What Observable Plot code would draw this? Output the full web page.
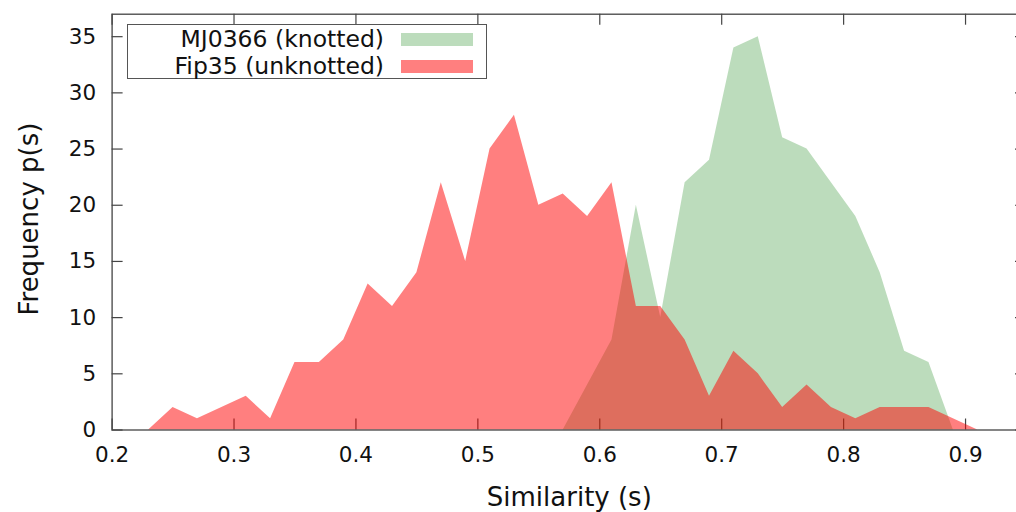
<!DOCTYPE html>
<html>
<head>
<meta charset="utf-8">
<script src="https://cdn.jsdelivr.net/npm/d3@7"></script>
<script src="https://cdn.jsdelivr.net/npm/@observablehq/plot@0.6"></script>
<style>
  html, body { margin: 0; padding: 0; background: #fff; overflow: hidden; }
  #chart { position: relative; width: 1016px; height: 512px; overflow: hidden; font-family: "DejaVu Sans", sans-serif; }
  #legend { position: absolute; left: 127px; top: 24px; width: 358px; height: 53px; border: 1.3px solid #555; background: #fff; }
  .row { position: absolute; left: 0; height: 28px; display: flex; align-items: center; }
  .row span { width: 256px; text-align: right; font-size: 23.5px; color: #111; white-space: nowrap; }
  .row i { display: block; width: 72px; height: 13px; margin-left: 17px; }
</style>
</head>
<body>
<div id="chart"><div id="legend"></div></div>
<script>
// Similarity bin centres and frequencies for each protein
const fipS    = [0.23, 0.25, 0.27, 0.29, 0.31, 0.33, 0.35, 0.37, 0.39, 0.41, 0.43, 0.45, 0.47, 0.49, 0.51, 0.53, 0.55, 0.57, 0.59, 0.61, 0.63, 0.65, 0.67, 0.69, 0.71, 0.73, 0.75, 0.77, 0.79, 0.81, 0.83, 0.85, 0.87, 0.89, 0.91];
const fipFreq = [0, 2, 1, 2, 3, 1, 6, 6, 8, 13, 11, 14, 22, 15, 25, 28, 20, 21, 19, 22, 11, 11, 8, 3, 7, 5, 2, 4, 2, 1, 2, 2, 2, 1, 0];
const mjS     = [0.57, 0.59, 0.61, 0.63, 0.65, 0.67, 0.69, 0.71, 0.73, 0.75, 0.77, 0.79, 0.81, 0.83, 0.85, 0.87, 0.89];
const mjFreq  = [0, 4, 8, 20, 10, 22, 24, 34, 35, 26, 25, 22, 19, 14, 7, 6, 0];

const seriesNames  = ["MJ0366 (knotted)", "Fip35 (unknotted)"];
const seriesColors = ["#228b22", "#ff0000"];
const seriesAlpha  = [0.3, 0.5];

const xTicks = [0.2, 0.3, 0.4, 0.5, 0.6, 0.7, 0.8, 0.9];
const yTicks = [0, 5, 10, 15, 20, 25, 30, 35];

const xDomain = [0.2, 0.95];
const yDomain = [0, 37];

const W = 1016, H = 512;
const mL = 111.6, mR = -10, mT = 13.7, mB = 82.5;
const tickPx = 11;
const xTickLen = tickPx * (xDomain[1] - xDomain[0]) / (W - mL - mR);
const yTickLen = tickPx * (yDomain[1] - yDomain[0]) / (H - mT - mB);
const axisColor = "#444";

const mj  = mjS.map((s, i) => ({s, f: mjFreq[i]}));
const fip = fipS.map((s, i) => ({s, f: fipFreq[i]}));

const chart = Plot.plot({
  width: W, height: H,
  marginLeft: mL, marginRight: mR, marginTop: mT, marginBottom: mB,
  x: {domain: xDomain},
  y: {domain: yDomain},
  style: {fontFamily: "DejaVu Sans", background: "white", color: "#111"},
  marks: [
    // inward tick marks on all four sides
    Plot.ruleX(xTicks, {x: d => d, y1: yDomain[0], y2: yDomain[0] + yTickLen, stroke: axisColor, strokeWidth: 1.2}),
    Plot.ruleX(xTicks, {x: d => d, y1: yDomain[1] - yTickLen, y2: yDomain[1], stroke: axisColor, strokeWidth: 1.2}),
    Plot.ruleY(yTicks, {y: d => d, x1: xDomain[0], x2: xDomain[0] + xTickLen, stroke: axisColor, strokeWidth: 1.2}),
    Plot.ruleY(yTicks, {y: d => d, x1: xDomain[1] - xTickLen, x2: xDomain[1], stroke: axisColor, strokeWidth: 1.2}),
    Plot.axisX({ticks: xTicks, tickSize: 0, tickPadding: 17, tickFormat: d => d.toFixed(1), fontSize: 21.5, label: null}),
    Plot.axisY({ticks: yTicks, tickSize: 0, tickPadding: 16, fontSize: 21.5, label: null}),
    // overlapping frequency distributions
    Plot.areaY(mj,  {x: "s", y: "f", fill: seriesColors[0], fillOpacity: seriesAlpha[0]}),
    Plot.areaY(fip, {x: "s", y: "f", fill: seriesColors[1], fillOpacity: seriesAlpha[1]}),
    Plot.frame({stroke: axisColor, strokeWidth: 1.3}),
    Plot.text(["Similarity (s)"], {text: d => d, frameAnchor: "bottom", lineAnchor: "middle", textAnchor: "middle", dy: 68, fontSize: 26}),
    Plot.text(["Frequency p(s)"], {text: d => d, frameAnchor: "left", textAnchor: "middle", lineAnchor: "middle", rotate: -90, dx: -82, dy: -3, fontSize: 26})
  ]
});
document.getElementById("chart").prepend(chart);

// legend box inside the top-left of the plot area
const legend = document.getElementById("legend");
seriesNames.forEach((name, i) => {
  const row = document.createElement("div");
  row.className = "row";
  row.style.top = (i === 0 ? 0 : 27) + "px";
  const label = document.createElement("span");
  label.textContent = name;
  const sw = document.createElement("i");
  sw.style.background = seriesColors[i];
  sw.style.opacity = seriesAlpha[i];
  row.append(label, sw);
  legend.append(row);
});
</script>
</body>
</html>
